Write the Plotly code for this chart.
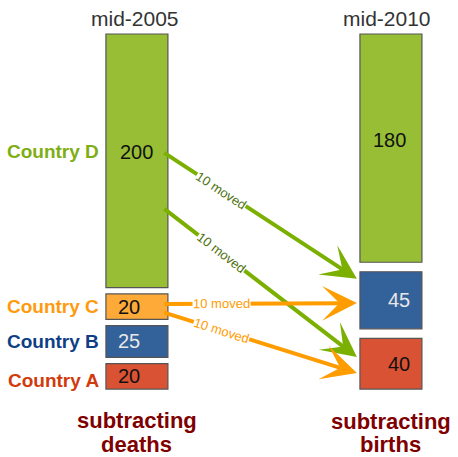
import math
import plotly.graph_objects as go

# Population stock per country at the two reference dates
countries = ["Country A", "Country B", "Country C", "Country D"]
pop_2005 = [20, 25, 20, 200]
pop_2010 = [40, 45, 0, 180]
periods = ["mid-2005", "mid-2010"]
bottom_notes = [["subtracting", "deaths"], ["subtracting", "births"]]

# Migration flows: (origin, destination, number moved)
flow_from = ["Country D", "Country D", "Country C", "Country C"]
flow_to = ["Country B", "Country A", "Country B", "Country A"]
flow_count = [10, 10, 10, 10]

fill = {"Country A": "#DA5234", "Country B": "#336199",
        "Country C": "#FDAA38", "Country D": "#97BE34"}
label_col = {"Country A": "#D13B0C", "Country B": "#0E3F85",
             "Country C": "#FF9A0E", "Country D": "#7EAE14"}
value_col = {"Country A": "#111111", "Country B": "#E8E8E8",
             "Country C": "#111111", "Country D": "#111111"}
arrow_col = {"Country D": "#7BB000", "Country C": "#FF9C00"}
arrow_text = {"Country D": "#4C700A", "Country C": "#FF9C00"}
FONT = "Liberation Sans, Arial, sans-serif"

W, H = 458, 457
X_RANGE = [-0.539, 1.264]
Y_RANGE = [-53.6, 306.8]
px_x = W / (X_RANGE[1] - X_RANGE[0])
px_y = H / (Y_RANGE[1] - Y_RANGE[0])
BAR_W = 0.244
GAP = [5.0, 7.5]  # vertical gap between stacked boxes per column

# Stack the non-empty boxes of each column with a small gap
boxes = {}  # (column, country) -> (base, value)
for col, vals in enumerate([pop_2005, pop_2010]):
    base = 0.0
    for c, v in zip(countries, vals):
        if v <= 0:
            continue
        boxes[(col, c)] = (base, v)
        base += v + GAP[col]

fig = go.Figure()
for c in countries:
    xs, ys, bs = [], [], []
    for col in (0, 1):
        if (col, c) in boxes:
            b, v = boxes[(col, c)]
            xs.append(col); ys.append(v); bs.append(b)
    fig.add_trace(go.Bar(
        x=xs, y=ys, base=bs, width=BAR_W, name=c,
        marker=dict(color=fill[c], line=dict(color="#555555", width=1.2)),
        hoverinfo="skip", showlegend=False))

annotations = []
# value labels inside the boxes
for (col, c), (b, v) in boxes.items():
    if c == "Country D":
        yv = b + v * 0.535
        xv = col - (0.0 if col == 0 else 0.004)
    else:
        yv = b + v / 2
        xv = col - 0.03 if col == 0 else col + 0.03
    annotations.append(dict(x=xv, y=yv, text=str(v), showarrow=False,
                            font=dict(size=20, color=value_col[c], family=FONT)))

# country names left of the first column
for c in countries:
    b, v = boxes[(0, c)]
    yv = b + v * 0.535 if c == "Country D" else b + v / 2
    if c == "Country A":
        yv -= 3
    annotations.append(dict(x=-BAR_W / 2 - 0.02, y=yv, text="<b>" + c + "</b>",
                            showarrow=False, xanchor="right",
                            font=dict(size=19, color=label_col[c], family=FONT)))

# column headings and footnotes
note_y = [[-25.2, -43.4], [-25.6, -43.6]]
for col, (p, note) in enumerate(zip(periods, bottom_notes)):
    annotations.append(dict(x=col - 0.008 - 0.008 * col, y=292.5, text=p,
                            showarrow=False,
                            font=dict(size=21, color="#333333", family=FONT)))
    for line, yl in zip(note, note_y[col]):
        annotations.append(dict(x=col, y=yl, text="<b>" + line + "</b>",
                                showarrow=False, borderpad=0,
                                font=dict(size=22, color="#800000", family=FONT)))

# flow arrows: tail position within origin box, head position within target box
tail_frac = {("Country D", "Country B"): 0.535, ("Country D", "Country A"): 0.315,
             ("Country C", "Country B"): 0.6, ("Country C", "Country A"): 0.28}
head_frac = {("Country D", "Country B"): 0.875, ("Country D", "Country A"): 0.63,
             ("Country C", "Country B"): 0.45, ("Country C", "Country A"): 0.315}
x_tail = BAR_W / 2 - 0.02
x_head = 1 - BAR_W / 2 - 0.012
for src, dst, n in zip(flow_from, flow_to, flow_count):
    b0, v0 = boxes[(0, src)]
    b1, v1 = boxes[(1, dst)]
    y0 = b0 + v0 * tail_frac[(src, dst)]
    y1 = b1 + v1 * head_frac[(src, dst)]
    annotations.append(dict(x=x_head, y=y1, ax=x_tail, ay=y0,
                            xref="x", yref="y", axref="x", ayref="y",
                            text="", showarrow=True, arrowhead=3,
                            arrowsize=1.45, arrowwidth=4, standoff=0,
                            arrowcolor=arrow_col[src]))
    t = 0.3
    lx = x_tail + (x_head - x_tail) * t
    ly = y0 + (y1 - y0) * t
    ang = math.degrees(math.atan2((y0 - y1) * px_y, (x_head - x_tail) * px_x))
    annotations.append(dict(x=lx, y=ly, text=f"{n} moved", showarrow=False,
                            textangle=ang, bgcolor="white", borderpad=0,
                            font=dict(size=13, color=arrow_text[src], family=FONT)))

fig.update_layout(
    width=W, height=H, margin=dict(l=0, r=0, t=0, b=0),
    paper_bgcolor="white", plot_bgcolor="white",
    xaxis=dict(range=X_RANGE, visible=False, fixedrange=True),
    yaxis=dict(range=Y_RANGE, visible=False, fixedrange=True),
    annotations=annotations, barmode="overlay",
)
fig.write_html("out.html")
